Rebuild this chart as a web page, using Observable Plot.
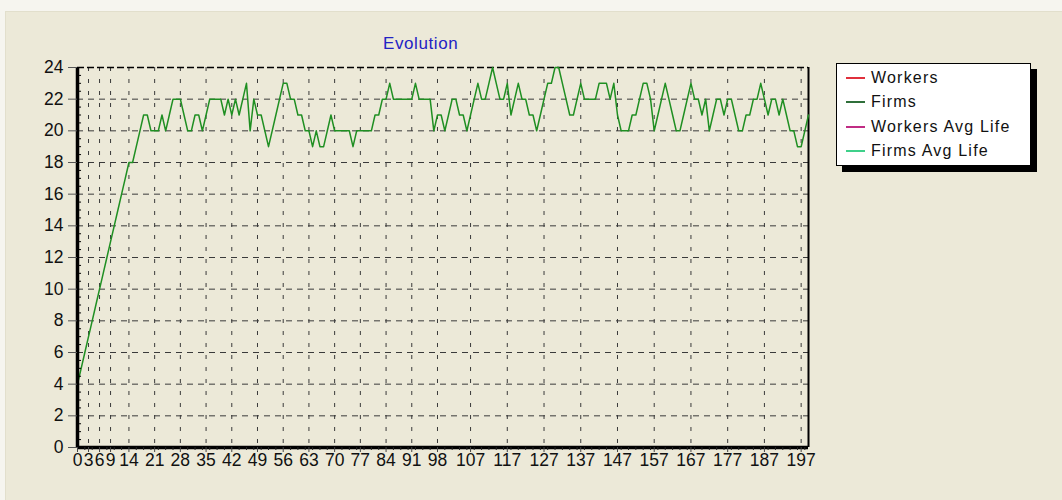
<!DOCTYPE html>
<html>
<head>
<meta charset="utf-8">
<script src="https://cdn.jsdelivr.net/npm/d3@7"></script>
<script src="https://cdn.jsdelivr.net/npm/@observablehq/plot@0.6"></script>
<style>
  html, body { margin: 0; padding: 0; background: #f6f5ef; }
  #page { position: relative; width: 1062px; height: 500px; overflow: hidden; }
  #panel { position: absolute; left: 5px; top: 11px; width: 1057px; height: 489px; background: #ece9d8; border-top: 1px solid #e2dfcc; border-left: 1px solid #e2dfcc; }
  #chart { position: absolute; left: 0; top: 0; }
  #title { position: absolute; left: 383px; top: 34px; font: 17px "Liberation Sans", Arial, sans-serif; color: #2323c4; letter-spacing: 0.6px; }
  #legend { position: absolute; left: 836px; top: 63px; width: 193px; height: 101px; background: #fff; border: 1px solid #000; box-shadow: 6px 6px 0 #000; font: 16px "Liberation Sans", Arial, sans-serif; color: #111; letter-spacing: 1.2px; }
  .row { position: absolute; left: 0; height: 20px; line-height: 20px; white-space: nowrap; }
  .sw { position: absolute; left: 9px; top: 9px; width: 19px; height: 2px; }
  .lb { position: absolute; left: 34px; top: 0; }
</style>
</head>
<body>
<div id="page">
  <div id="panel"></div>
  <div id="chart"></div>
  <div id="title">Evolution</div>
  <div id="legend"></div>
</div>
<script>
// ---- data ----
const seriesNames = ["Workers", "Firms", "Workers Avg Life", "Firms Avg Life"];
const seriesColors = ["#e0303c", "#2f6f3a", "#c02c84", "#3fd08a"];
const xTickLabels = [0, 3, 6, 9, 14, 21, 28, 35, 42, 49, 56, 63, 70, 77, 84, 91, 98, 107, 117, 127, 137, 147, 157, 167, 177, 187, 197];
const yTickLabels = [0, 2, 4, 6, 8, 10, 12, 14, 16, 18, 20, 22, 24];
const firms = [
  4, 5, 6, 7, 8, 9, 10, 11, 12, 13, 14, 15, 16, 17, 18, 18, 19, 20, 21, 21,
  20, 20, 20, 21, 20, 21, 22, 22, 22, 21, 20, 20, 21, 21, 20, 21, 22, 22, 22, 22,
  21, 22, 21, 22, 21, 22, 23, 20, 22, 21, 21, 20, 19, 20, 21, 22, 23, 23, 22, 22,
  21, 21, 20, 20, 19, 20, 19, 19, 20, 21, 20, 20, 20, 20, 20, 19, 20, 20, 20, 20,
  20, 21, 21, 22, 22, 23, 22, 22, 22, 22, 22, 22, 23, 22, 22, 22, 22, 20, 21, 21,
  20, 21, 22, 22, 21, 21, 20, 21, 22, 23, 22, 22, 23, 24, 23, 22, 22, 23, 21, 22,
  23, 22, 22, 21, 21, 20, 21, 22, 23, 23, 24, 24, 23, 22, 21, 21, 22, 23, 22, 22,
  22, 22, 23, 23, 23, 22, 23, 21, 20, 20, 20, 21, 21, 22, 23, 23, 22, 20, 21, 22,
  23, 22, 21, 20, 20, 21, 22, 23, 22, 22, 21, 22, 20, 21, 22, 22, 21, 22, 22, 21,
  20, 20, 21, 21, 22, 22, 23, 22, 21, 22, 22, 21, 22, 21, 20, 20, 19, 19, 20, 21
];

// ---- chart ----
const xMax = firms.length - 1;
const minorX = d3.range(0, xMax + 1, 2).filter(v => !xTickLabels.includes(v));
const minorY = d3.range(0, 24.01, 0.5).filter(v => v % 2 !== 0);

const chart = Plot.plot({
  width: 1062,
  height: 500,
  marginLeft: 77,
  marginRight: 254,
  marginTop: 67,
  marginBottom: 53,
  style: { background: "transparent", fontFamily: "'Liberation Sans', Arial, sans-serif", fontSize: "17.5px", color: "#111" },
  x: { domain: [0, xMax], label: null },
  y: { domain: [0, 24], label: null },
  marks: [
    Plot.gridY(yTickLabels.filter(v => v > 0 && v < 24), { stroke: "#3a3a3a", strokeOpacity: 1, strokeDasharray: "6,5" }),
    Plot.gridX(xTickLabels.filter(v => v > 0), { stroke: "#3a3a3a", strokeOpacity: 1, strokeDasharray: "4,8" }),
    Plot.ruleY([24], { stroke: "#000", strokeWidth: 1.6, strokeDasharray: "7,3" }),
    Plot.ruleX([xMax], { stroke: "#000", strokeWidth: 2 }),
    Plot.line(firms, { x: (d, i) => i, y: d => d, stroke: "#1f8f22", strokeWidth: 1.5 }),
    Plot.ruleY(minorY, { x1: 0, x2: 1.1, stroke: "#000", strokeWidth: 1 }),
    Plot.ruleX([0], { stroke: "#000", strokeWidth: 3.5 }),
    Plot.ruleY([0], { stroke: "#000", strokeWidth: 3.5 }),
    Plot.axisX(minorX, { tickSize: 3, text: null, stroke: "#222" }),
    Plot.axisX(xTickLabels, { tickSize: 5, tickPadding: 1, stroke: "#444", fontSize: 17.5, tickFormat: d => String(d) }),
    Plot.axisY(yTickLabels, { tickSize: 9, tickPadding: 5, stroke: "#555", fontSize: 17.5, tickFormat: d => String(d) })
  ]
});
document.getElementById("chart").appendChild(chart);

// ---- legend ----
const legend = document.getElementById("legend");
seriesNames.forEach((name, i) => {
  const row = document.createElement("div");
  row.className = "row";
  row.style.top = (4 + i * 24.3) + "px";
  row.style.width = "190px";
  const sw = document.createElement("div");
  sw.className = "sw";
  sw.style.background = seriesColors[i];
  const lb = document.createElement("div");
  lb.className = "lb";
  lb.textContent = name;
  row.appendChild(sw);
  row.appendChild(lb);
  legend.appendChild(row);
});
</script>
</body>
</html>
